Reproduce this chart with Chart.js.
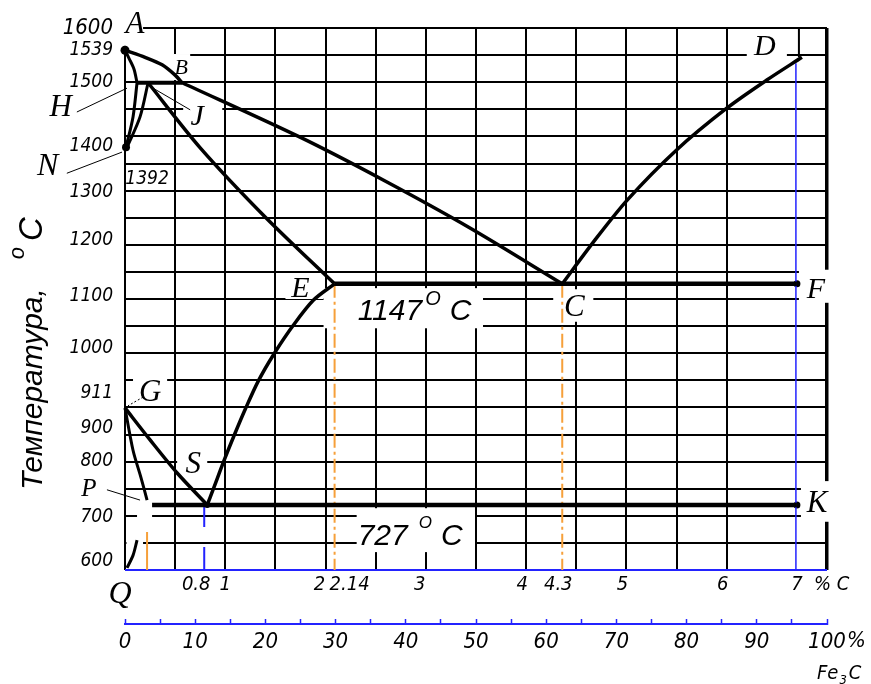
<!DOCTYPE html>
<html lang="ru">
<head>
<meta charset="utf-8">
<title>Fe - Fe3C</title>
<script src="https://cdn.jsdelivr.net/npm/chart.js@4.4.1/dist/chart.umd.min.js"></script>
<style>
    html, body { margin: 0; padding: 0; background: #fff; }
    .box { width: 871px; height: 684px; }
</style>
</head>
<body>
<div class="box"><canvas id="feC"></canvas></div>
<script>
// x = % C, y = temperature
var liquidusAB = [{x: 0, y: 1559}, {x: 0.2, y: 1546}, {x: 0.37, y: 1532}, {x: 0.5, y: 1513}, {x: 0.57, y: 1499}];
var liquidusBC = [{x: 0.57, y: 1499}, {x: 1.74, y: 1399}, {x: 2.57, y: 1320}, {x: 3.44, y: 1231}, {x: 4.36, y: 1128}];
var liquidusCD = [
    {x: 4.36, y: 1128}, {x: 4.67, y: 1205}, {x: 5.01, y: 1283}, {x: 5.5, y: 1375},
    {x: 6.0, y: 1452}, {x: 6.4, y: 1504}, {x: 6.75, y: 1546}
];
var solidusAH = [{x: 0, y: 1559}, {x: 0.04, y: 1544}, {x: 0.09, y: 1524}, {x: 0.12, y: 1499}];
var peritecticHJB = [{x: 0.12, y: 1499}, {x: 0.57, y: 1499}];
var lineHN = [{x: 0.12, y: 1499}, {x: 0.08, y: 1436}, {x: 0.01, y: 1380}];
var lineJN = [{x: 0.23, y: 1499}, {x: 0.15, y: 1436}, {x: 0.02, y: 1380}];
var lineJE = [{x: 0.23, y: 1499}, {x: 0.75, y: 1379}, {x: 1.40, y: 1251}, {x: 2.09, y: 1128}];
var eutecticECF = [{x: 2.09, y: 1128}, {x: 6.70, y: 1128}];
var lineES = [
    {x: 2.09, y: 1128}, {x: 1.88, y: 1098}, {x: 1.68, y: 1052}, {x: 1.49, y: 1000}, {x: 1.33, y: 949},
    {x: 1.20, y: 897}, {x: 1.09, y: 849}, {x: 0.99, y: 803}, {x: 0.88, y: 749}, {x: 0.82, y: 720}
];
var lineGS = [{x: 0, y: 899}, {x: 0.25, y: 840}, {x: 0.52, y: 779}, {x: 0.82, y: 720}];
var lineGP = [{x: 0, y: 899}, {x: 0.08, y: 821}, {x: 0.16, y: 770}, {x: 0.22, y: 729}];
var eutectoidPSK = [{x: 0.27, y: 720}, {x: 6.70, y: 720}];
var lineQ = [{x: 0.12, y: 655}, {x: 0.08, y: 627}, {x: 0.02, y: 604}];

// reference verticals
var dropE = [{x: 2.09, y: 1128}, {x: 2.09, y: 600}];
var dropC = [{x: 4.36, y: 1128}, {x: 4.36, y: 600}];
var dropS = [{x: 0.79, y: 720}, {x: 0.79, y: 600}];
var markP = [{x: 0.22, y: 670}, {x: 0.22, y: 600}];
var lineFe3C = [{x: 6.69, y: 1535}, {x: 6.69, y: 600}];
var aboveD = [{x: 6.72, y: 1600}, {x: 6.72, y: 1546}];
var keyDots = [{x: 0, y: 1559}, {x: 0.01, y: 1380}, {x: 0.82, y: 720}, {x: 6.70, y: 1128}, {x: 6.70, y: 720}];

// tick labels as printed
var tempTickText = ['1600', '1539', '1500', '1400', '1300', '1200', '1100', '1000', '911', '900', '800', '700', '600'];
var tempTickAt = [1600, 1559, 1500, 1382, 1297, 1209, 1105, 1010, 927, 862, 801, 698, 617];
var carbonTickText = ['0.8', '1', '2', '2.14', '3', '4', '4.3', '5', '6', '7'];
var carbonTickAt = [0.71, 1, 1.94, 2.24, 2.94, 3.96, 4.32, 4.96, 5.96, 6.70];

var NARROW = "'Liberation Sans Narrow', 'DejaVu Sans Condensed', sans-serif";
var SANS = "'Liberation Sans', 'DejaVu Sans', sans-serif";
var SERIF = "'Liberation Serif', 'DejaVu Serif', serif";
var ink = '#000';
var blue = '#2323ff';
var orange = '#f6a03a';

const line = (label, data, width, more) => Object.assign({
    label: label, data: data, showLine: true, borderColor: ink, borderWidth: width,
    pointRadius: 0, tension: 0.3, clip: false, xAxisID: 'x', yAxisID: 'y'
}, more || {});

// white patches where the drawing breaks the grid round its labels: [x0, x1, t0, t1]
var gaps = [
    [-0.07, 0.18, 1567, 1630], [0.015, 0.48, 1545, 1556], [0.45, 0.65, 1504, 1552],
    [0.58, 0.97, 1419, 1462], [1.6, 1.98, 1100, 1141], [1.98, 3.57, 1046, 1120],
    [4.27, 4.67, 1058, 1118], [6.72, 7.05, 1093, 1154], [6.74, 7.05, 689, 764],
    [6.2, 6.6, 1541, 1585], [0.08, 0.42, 906, 954], [0.52, 0.82, 770, 818],
    [0.12, 0.27, 677, 714], [0.015, 0.18, 641, 659], [2.31, 3.49, 633, 714]
];

// point letters: [text, x, t, size]
var letters = [
    ['A', 0.10, 1606, 31], ['B', 0.56, 1526, 22], ['H', -0.64, 1452, 31], ['N', -0.77, 1345, 32],
    ['J', 0.72, 1436, 30], ['E', 1.75, 1118, 30], ['C', 4.48, 1083, 31], ['F', 6.89, 1117, 30],
    ['D', 6.38, 1565, 30], ['G', 0.25, 927, 31], ['S', 0.68, 794, 31], ['P', -0.36, 749, 25],
    ['K', 6.90, 722, 31], ['Q', -0.05, 554, 32]
];

// thin leaders from letters to points: [x0, t0, x1, t1]
var leaders = [
    [-0.48, 1445, 0.02, 1489], [-0.58, 1332, -0.03, 1371], [0.65, 1449, 0.28, 1489], [-0.18, 748, 0.15, 729]
];

const runText = (ctx, x, y, parts) => {
    parts.forEach(p => {
        ctx.font = p[1];
        x += p[3] || 0;
        ctx.fillText(p[0], x, y - (p[2] || 0));
        x += ctx.measureText(p[0]).width;
    });
};

var sketch = {
    id: 'sketch',
    beforeDatasetsDraw(chart) {
        const {ctx, scales: {x, y}} = chart;
        ctx.save();
        ctx.fillStyle = '#fff';
        gaps.forEach(g => {
            const l = x.getPixelForValue(g[0]), r = x.getPixelForValue(g[1]);
            const t = y.getPixelForValue(g[3]), b = y.getPixelForValue(g[2]);
            ctx.fillRect(l, t, r - l, b - t);
        });
        ctx.restore();
    },
    afterDatasetsDraw(chart) {
        const {ctx, chartArea, scales: {x, y, xFe}} = chart;
        const px = v => x.getPixelForValue(v), py = t => y.getPixelForValue(t);
        ctx.save();
        ctx.fillStyle = ink;
        ctx.strokeStyle = ink;

        ctx.lineWidth = 1;
        leaders.forEach(l => {
            ctx.beginPath();
            ctx.moveTo(px(l[0]), py(l[1]));
            ctx.lineTo(px(l[2]), py(l[3]));
            ctx.stroke();
        });
        ctx.setLineDash([2, 2]);
        ctx.beginPath();
        ctx.moveTo(px(0.18), py(919));
        ctx.lineTo(px(0.03), py(903));
        ctx.stroke();
        ctx.setLineDash([]);

        ctx.textAlign = 'center';
        ctx.textBaseline = 'middle';
        letters.forEach(l => {
            ctx.font = 'italic ' + l[3] + 'px ' + SERIF;
            ctx.fillText(l[0], px(l[1]), py(l[2]));
        });
        ctx.font = 'italic 19px ' + NARROW;
        ctx.fillText('1392', px(0.22), py(1321));

        // temperature notes with raised "o"
        ctx.textAlign = 'left';
        ctx.textBaseline = 'alphabetic';
        runText(ctx, px(2.32), py(1061), [
            ['1147', 'italic 30px ' + SANS], ['O', 'italic 20px ' + SANS, 15, 3], ['C', 'italic 30px ' + SANS, 0, 9]
        ]);
        runText(ctx, px(2.32), py(646), [
            ['727', 'italic 30px ' + SANS], ['O', 'italic 17px ' + SANS, 17, 11], ['C', 'italic 30px ' + SANS, 0, 9]
        ]);

        // unit texts beside the axes
        ctx.textBaseline = 'middle';
        ctx.font = 'italic 20px ' + NARROW;
        ctx.fillText('% C', px(6.87), chartArea.bottom + 15);
        ctx.font = 'italic 22px ' + NARROW;
        ctx.fillText('%', xFe.getPixelForValue(100) + 20, xFe.top + 17);
        ctx.textBaseline = 'alphabetic';
        runText(ctx, xFe.getPixelForValue(100) - 10, xFe.top + 55, [
            ['Fe', 'italic 20px ' + NARROW], ['3', 'italic 13px ' + NARROW, -5, 1], ['C', 'italic 20px ' + NARROW, 0, 2]
        ]);

        // axis title, rotated
        ctx.translate(chartArea.left - 83, chartArea.bottom - 80);
        ctx.rotate(-Math.PI / 2);
        runText(ctx, 0, 0, [
            ['Температура,', 'italic 30px ' + SANS], ['o', 'italic 22px ' + SANS, 18, 29], ['C', 'italic 33px ' + SANS, 0, 6]
        ]);
        ctx.restore();
    }
};

new Chart(document.getElementById('feC'), {
    type: 'scatter',
    data: {
        datasets: [
            line('AB', liquidusAB, 3.5),
            line('BC', liquidusBC, 3.5),
            line('CD', liquidusCD, 3.5),
            line('AH', solidusAH, 3),
            line('HJB', peritecticHJB, 4, {tension: 0}),
            line('HN', lineHN, 3),
            line('JN', lineJN, 3),
            line('JE', lineJE, 3.5),
            line('ECF', eutecticECF, 4.5, {tension: 0}),
            line('ES', lineES, 3.5),
            line('GS', lineGS, 3.5),
            line('GP', lineGP, 3),
            line('PSK', eutectoidPSK, 4.5, {tension: 0}),
            line('PQ', lineQ, 3),
            line('2.14', dropE, 2, {borderColor: orange, borderDash: [14, 4, 3, 4], tension: 0}),
            line('4.3', dropC, 2, {borderColor: orange, borderDash: [14, 4, 3, 4], tension: 0}),
            line('P', markP, 2, {borderColor: orange, tension: 0}),
            line('0.8', dropS, 2, {borderColor: blue, borderDash: [22, 20], tension: 0}),
            line('Fe3C', lineFe3C, 1.5, {borderColor: blue, tension: 0}),
            line('D', aboveD, 2, {tension: 0}),
            line('dots', keyDots, 0, {showLine: false, pointRadius: [4.5, 4, 3, 3.5, 3.5], pointBackgroundColor: ink, pointBorderWidth: 0})
        ]
    },
    options: {
        responsive: true,
        maintainAspectRatio: false,
        animation: false,
        events: [],
        layout: { padding: { top: 28, right: 44, left: 0, bottom: 0 } },
        plugins: { legend: { display: false }, tooltip: { enabled: false } },
        scales: {
            x: {
                type: 'linear', axis: 'x', position: 'bottom', weight: 0, min: 0, max: 7,
                ticks: { display: false, stepSize: 0.5, autoSkip: false },
                border: { display: false },
                grid: {
                    drawTicks: false,
                    color: c => Math.abs(c.tick.value - 6.5) < 1e-6 ? 'rgba(0,0,0,0)' : ink,
                    lineWidth: c => Math.abs(c.tick.value - 7) < 1e-6 ? 3.5 : 2
                }
            },
            xC: {
                type: 'linear', axis: 'x', position: 'bottom', weight: 1, min: 0, max: 7,
                grid: { display: false, drawTicks: false },
                border: { display: false },
                afterBuildTicks: s => { s.ticks = carbonTickAt.map(v => ({value: v})); },
                afterFit: s => { s.height = 54; },
                ticks: {
                    autoSkip: false, maxRotation: 0, padding: 3, color: ink,
                    font: { family: NARROW, size: 20, style: 'italic' },
                    callback: (v, i) => carbonTickText[i]
                }
            },
            xFe: {
                type: 'linear', axis: 'x', position: 'bottom', weight: 2, min: 0, max: 100,
                border: { color: blue, width: 2 },
                grid: { drawOnChartArea: false, drawTicks: true, tickLength: -5, tickColor: blue, tickWidth: 1.5, color: blue },
                afterFit: s => { s.height = 60; },
                ticks: {
                    stepSize: 5, autoSkip: false, maxRotation: 0, padding: 10, color: ink,
                    font: { family: NARROW, size: 22, style: 'italic' },
                    callback: v => (v % 10 === 0 ? String(v) : '')
                }
            },
            y: {
                type: 'linear', axis: 'y', position: 'left', weight: 0, min: 600, max: 1600,
                ticks: { display: false, stepSize: 50, autoSkip: false },
                border: { display: false },
                grid: {
                    drawTicks: false,
                    color: c => c.tick.value === 600 ? blue : ink,
                    lineWidth: 2
                }
            },
            yLab: {
                type: 'linear', axis: 'y', position: 'left', weight: 1, min: 600, max: 1600,
                grid: { display: false, drawTicks: false },
                border: { display: false },
                afterBuildTicks: s => { s.ticks = tempTickAt.map(v => ({value: v})); },
                afterFit: s => { s.width = 125; },
                ticks: {
                    autoSkip: false, padding: 12, color: ink,
                    font: c => ({ family: NARROW, size: c.index === 0 ? 22 : 19, style: 'italic' }),
                    callback: (v, i) => tempTickText[i]
                }
            }
        }
    },
    plugins: [sketch]
});
</script>
</body>
</html>
